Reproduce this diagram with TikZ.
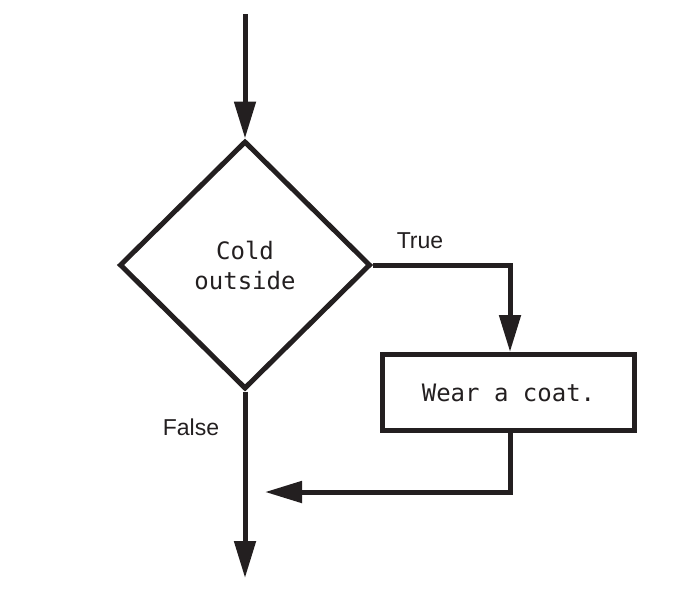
\documentclass[tikz,border=0pt]{standalone}
\usepackage{fontspec}
\setmonofont{DejaVu Sans Mono}
\setsansfont{Liberation Sans}
\usetikzlibrary{shapes.geometric,arrows.meta}
\definecolor{ink}{HTML}{231F20}
\tikzset{
  flow/.style={line width=5pt, color=ink, miter limit=10},
  arr/.style={flow, -{Triangle[length=37pt,width=21pt]}},
  lbl/.style={font=\sffamily\fontsize{23}{27}\selectfont, text=ink, inner sep=0pt},
  code/.style={font=\ttfamily\fontsize{24}{30}\selectfont, text=ink, align=center}
}
\begin{document}
\begin{tikzpicture}[x=1pt,y=-1pt]
\useasboundingbox (0,0) rectangle (682,598);
\node[draw, flow, shape=diamond, minimum width=251pt, minimum height=248pt, inner sep=0pt, code] (dia) at (245,265) {Cold\\outside};
\node[draw, flow, rectangle, minimum width=252pt, minimum height=76pt, inner sep=0pt, code] (box) at (508.5,392.5) {Wear a coat.};
\coordinate (start) at (245,14);
\coordinate (c1) at (510,265);
\coordinate (c2) at (510,492);
\coordinate (join) at (265,492);
\coordinate (end) at (245,578);
\draw[arr] (start) -- (dia.north);
\draw[arr] (dia.east) -- (c1) -- (c1 |- box.north);
\draw[arr] (c1 |- box.south) -- (c2) -- (join);
\draw[arr] (dia.south) -- (end);
\node[lbl] (t) at (420,241) {True};
\node[lbl] (f) at (191,427) {False};
\end{tikzpicture}
\end{document}
